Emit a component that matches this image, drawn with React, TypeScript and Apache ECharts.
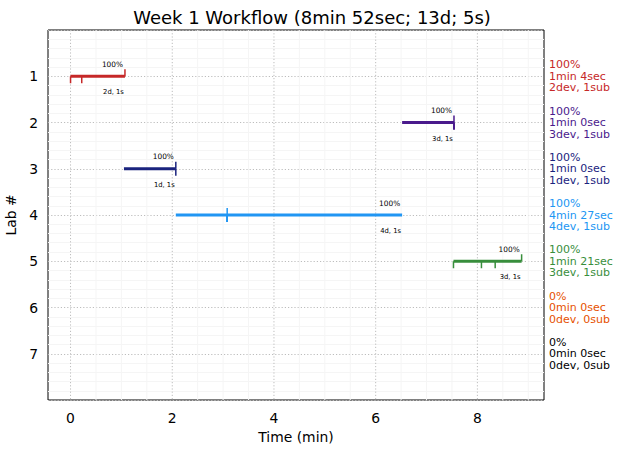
import React, { useEffect, useRef } from 'react';
import * as echarts from 'echarts';

const FONT = "'DejaVu Sans', 'Liberation Sans', sans-serif";

// ---- data ----
const labs = [1, 2, 3, 4, 5, 6, 7];
const labColors = ['#c62828', '#4a1a8c', '#1a237e', '#2196f3', '#388e3c', '#e65100', '#000000'];
const startMin: (number | null)[] = [0, 6.52, 1.05, 2.07, 7.53, null, null];
const endMin: (number | null)[] = [1.07, 7.54, 2.07, 6.52, 8.87, null, null];
const deviceTimes: number[][] = [[0, 0.22], [7.54, 7.54, 7.54], [2.07], [3.08, 3.08, 3.08, 3.08], [7.53, 8.08, 8.35], [], []];
const submitTimes: number[][] = [[1.07], [7.54], [2.07], [3.08], [8.87], [], []];
const completion = ['100%', '100%', '100%', '100%', '100%', '0%', '0%'];
const durations = ['1min 4sec', '1min 0sec', '1min 0sec', '4min 27sec', '1min 21sec', '0min 0sec', '0min 0sec'];
const devCounts = [2, 3, 1, 4, 3, 0, 0];
const subCounts = [1, 1, 1, 1, 1, 0, 0];
const dayLabels = ['2d, 1s', '3d, 1s', '1d, 1s', '4d, 1s', '3d, 1s', '', ''];
const xTickValues = [0, 2, 4, 6, 8];
const yTickValues = [1, 2, 3, 4, 5, 6, 7];
const titleText = 'Week 1 Workflow (8min 52sec; 13d; 5s)';

const totalMin = 8 + 52 / 60;
const pad = totalMin * 0.05;
const xMin = -pad;
const xMax = totalMin + pad;
const yMin = 0;
const yMax = 8;

function buildOption() {
  // grid lines on x (major every 2, minor every 0.5)
  const xMinorLines: number[][] = [];
  for (let v = 0; v <= xMax; v += 0.5) {
    if (xTickValues.indexOf(v) < 0) xMinorLines.push([v, 4]);
  }
  for (let v = -0.5; v >= xMin; v -= 0.5) xMinorLines.push([v, 4]);
  const xMajorLines = xTickValues.map((v) => [v, 4]);

  const barData: number[][] = [];
  labs.forEach((lab, i) => {
    const s = startMin[i];
    const e = endMin[i];
    if (s !== null && e !== null) barData.push([s, lab, e, i]);
  });
  const tickData: number[][] = [];
  labs.forEach((lab, i) => {
    deviceTimes[i].forEach((t) => tickData.push([t, lab, 1, i]));
    submitTimes[i].forEach((t) => tickData.push([t, lab, -1, i]));
  });
  const sideData = labs.map((lab, i) => [xMax, lab, i]);

  const gridLineRender = (dash: number[] | null, color: string) => (params: any, api: any) => {
    const v = api.value(0);
    const p0 = api.coord([v, yMin]);
    const p1 = api.coord([v, yMax]);
    return {
      type: 'line',
      shape: { x1: p0[0], y1: p0[1], x2: p1[0], y2: p1[1] },
      style: { stroke: color, lineWidth: 1, lineDash: dash || undefined },
      silent: true,
    };
  };

  return {
    animation: false,
    backgroundColor: '#ffffff',
    grid: {
      left: 48,
      right: 79,
      top: 30,
      bottom: 53,
      show: true,
      borderColor: '#000000',
      borderWidth: 1,
      backgroundColor: 'transparent',
      containLabel: false,
      outerBoundsMode: 'none',
    },
    graphic: [
      {
        type: 'text',
        x: 312,
        y: 17,
        style: {
          text: titleText,
          align: 'center',
          verticalAlign: 'middle',
          fontFamily: FONT,
          fontSize: 18,
          fill: '#000',
        },
      },
    ],
    xAxis: {
      type: 'value',
      min: xMin,
      max: xMax,
      axisLine: { show: false },
      axisTick: { show: false },
      splitLine: { show: false },
      axisLabel: {
        customValues: xTickValues,
        color: '#000',
        fontSize: 13.9,
        fontFamily: FONT,
        margin: 11,
      },
      name: 'Time (min)',
      nameLocation: 'middle',
      nameGap: 27,
      nameTextStyle: { color: '#000', fontSize: 13.9, fontFamily: FONT },
    },
    yAxis: {
      type: 'value',
      min: yMin,
      max: yMax,
      interval: 1,
      inverse: true,
      axisLine: { show: false },
      axisTick: { show: false },
      axisLabel: {
        customValues: yTickValues,
        color: '#000',
        fontSize: 13.9,
        fontFamily: FONT,
        margin: 10,
      },
      splitLine: { show: true, lineStyle: { color: '#bdbdbd', width: 1, type: [1.2, 2] } },
      minorTick: { show: false, splitNumber: 5 },
      minorSplitLine: { show: true, lineStyle: { color: '#f5f5f5', width: 1 } },
      name: 'Lab #',
      nameLocation: 'middle',
      nameGap: 30,
      nameTextStyle: { color: '#000', fontSize: 13.9, fontFamily: FONT },
    },
    series: [
      {
        type: 'custom',
        name: 'xMinorGrid',
        z: 0,
        silent: true,
        data: xMinorLines,
        encode: { x: 0, y: 1 },
        renderItem: gridLineRender(null, '#f5f5f5'),
      },
      {
        type: 'custom',
        name: 'xMajorGrid',
        z: 1,
        silent: true,
        data: xMajorLines,
        encode: { x: 0, y: 1 },
        renderItem: gridLineRender([1.2, 2], '#bdbdbd'),
      },
      {
        type: 'custom',
        name: 'spans',
        z: 3,
        data: barData,
        encode: { x: [0, 2], y: 1 },
        renderItem: (params: any, api: any) => {
          const lab = api.value(1);
          const idx = api.value(3);
          const s = api.coord([api.value(0), lab]);
          const e = api.coord([api.value(2), lab]);
          const color = labColors[idx];
          return {
            type: 'group',
            children: [
              {
                type: 'line',
                shape: { x1: s[0], y1: s[1], x2: e[0], y2: e[1] },
                style: { stroke: color, lineWidth: 3 },
              },
              {
                type: 'text',
                x: e[0] - 12.5,
                y: e[1] - 12,
                style: {
                  text: completion[idx],
                  align: 'center',
                  verticalAlign: 'middle',
                  fontFamily: FONT,
                  fontSize: 7.4,
                  fill: '#000',
                },
              },
              {
                type: 'text',
                x: e[0] - 11.5,
                y: e[1] + 16,
                style: {
                  text: dayLabels[idx],
                  align: 'center',
                  verticalAlign: 'middle',
                  fontFamily: FONT,
                  fontSize: 6.8,
                  fill: '#000',
                },
              },
            ],
          };
        },
      },
      {
        type: 'custom',
        name: 'events',
        z: 4,
        data: tickData,
        encode: { x: 0, y: 1 },
        renderItem: (params: any, api: any) => {
          const p = api.coord([api.value(0), api.value(1)]);
          const dir = api.value(2);
          const idx = api.value(3);
          return {
            type: 'line',
            shape: { x1: p[0], y1: p[1], x2: p[0], y2: p[1] + dir * 7 },
            style: { stroke: labColors[idx], lineWidth: 1.5 },
          };
        },
      },
      {
        type: 'custom',
        name: 'summary',
        z: 5,
        clip: false,
        data: sideData,
        encode: { x: 0, y: 1 },
        renderItem: (params: any, api: any) => {
          const p = api.coord([api.value(0), api.value(1)]);
          const idx = api.value(2);
          return {
            type: 'text',
            x: p[0] + 5,
            y: p[1],
            style: {
              text: `${completion[idx]}\n${durations[idx]}\n${devCounts[idx]}dev, ${subCounts[idx]}sub`,
              align: 'left',
              verticalAlign: 'middle',
              fontFamily: FONT,
              fontSize: 11,
              lineHeight: 11.5,
              fill: labColors[idx],
            },
          };
        },
      },
    ],
  };
}

export default function App() {
  const ref = useRef<HTMLDivElement>(null);
  useEffect(() => {
    if (!ref.current) return;
    const chart = echarts.init(ref.current, null, { renderer: 'svg', width: 623, height: 453 });
    chart.setOption(buildOption() as any);
    return () => chart.dispose();
  }, []);
  return (
    <div
      ref={ref}
      style={{ position: 'fixed', left: 0, top: 0, width: 623, height: 453, background: '#fff' }}
    />
  );
}
